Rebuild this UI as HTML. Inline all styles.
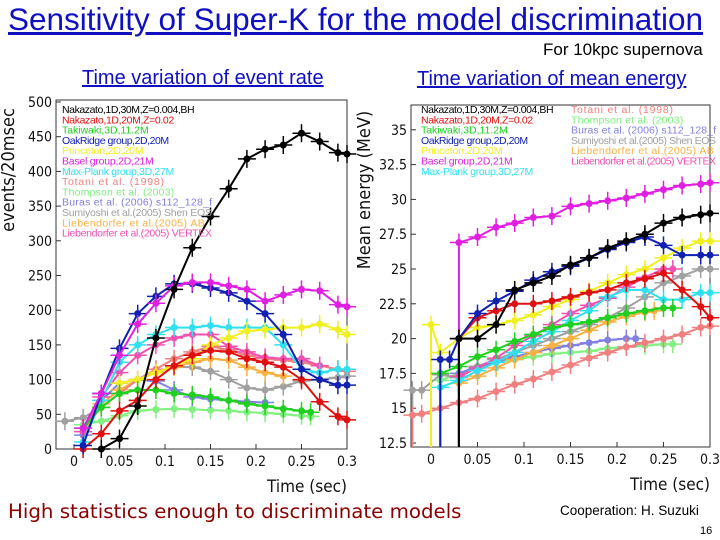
<!DOCTYPE html>
<html><head><meta charset="utf-8"><style>
body{margin:0;background:#fff;font-family:"Liberation Sans",sans-serif;}
#root{position:relative;width:720px;height:540px;overflow:hidden;background:#fff}
.t{position:absolute;white-space:nowrap}
</style></head><body>
<div id="root">
<div class="t" style="left:8px;top:1px;font-size:31.5px;color:#1010c0;text-decoration:underline">Sensitivity of Super-K for the model discrimination</div>
<div class="t" style="left:543px;top:40px;font-size:17px;color:#000">For 10kpc supernova</div>
<div class="t" style="left:82px;top:67px;font-size:20px;color:#1010c0;text-decoration:underline">Time variation of event rate</div>
<div class="t" style="left:417px;top:68px;font-size:20px;color:#1010c0;text-decoration:underline">Time variation of mean energy</div>
<div class="t" style="left:8px;top:500px;font-size:19.8px;color:#8b0000;font-family:'DejaVu Sans',sans-serif">High statistics enough to discriminate models</div>
<div class="t" style="left:560px;top:503px;font-size:13.5px;color:#000">Cooperation: H. Suzuki</div>
<div class="t" style="left:700px;top:525px;font-size:11px;color:#000">16</div>
<svg id="svg" width="720" height="540" style="position:absolute;left:0;top:0"></svg>
</div>
<script>
const colBlack="#000",colRed="#e01010",colGreen="#20d020",colNavy="#1020b0",colYellow="#f0f020",colMagenta="#e020e0",colCyan="#30e0f0",colSalmon="#f08080",colLgreen="#80f080",colBuras="#8080e0",colGray="#a0a0a0",colOrange="#f8b040",colPink="#f050b0";
const legendNames=["Nakazato,1D,30M,Z=0.004,BH","Nakazato,1D,20M,Z=0.02","Takiwaki,3D,11.2M","OakRidge group,2D,20M","Princeton,2D,20M","Basel group,2D,21M","Max-Plank group,3D,27M","Totani et al. (1998)","Thompson et al. (2003)","Buras et al. (2006) s112_128_f","Sumiyoshi et al.(2005) Shen EOS","Liebendorfer et al.(2005) AB","Liebendorfer et al.(2005) VERTEX"];
const legendColors=[colBlack,colRed,colGreen,colNavy,colYellow,colMagenta,colCyan,colSalmon,colLgreen,colBuras,colGray,colOrange,colPink];
const xTicks=[0,0.05,0.1,0.15,0.2,0.25,0.3];
const rateTicks=[0,50,100,150,200,250,300,350,400,450,500];
const energyTicks=[12.5,15,17.5,20,22.5,25,27.5,30,32.5,35];
const rBlackT=[0.03,0.05,0.07,0.09,0.11,0.13,0.15,0.17,0.19,0.21,0.23,0.25,0.27,0.29,0.3];
const rBlackV=[0,15,62,160,230,290,335,375,418,432,438,455,443,427,425];
const rRedT=[0.01,0.03,0.05,0.07,0.09,0.11,0.13,0.15,0.17,0.19,0.21,0.23,0.25,0.27,0.29,0.3];
const rRedV=[0,22,55,70,100,120,135,142,140,130,125,118,100,68,47,42];
const rGreenT=[0.01,0.03,0.05,0.07,0.09,0.11,0.13,0.15,0.17,0.19,0.21,0.23,0.25,0.26];
const rGreenV=[30,60,80,85,85,80,78,75,70,65,62,58,55,53];
const rNavyT=[0.01,0.03,0.05,0.07,0.09,0.11,0.13,0.15,0.17,0.19,0.21,0.23,0.25,0.27,0.29,0.3];
const rNavyV=[5,80,145,195,220,238,238,232,225,213,195,165,115,100,92,92];
const rYellowT=[0.05,0.07,0.09,0.11,0.13,0.15,0.17,0.19,0.21,0.23,0.25,0.27,0.29,0.3];
const rYellowV=[95,100,110,120,130,150,160,170,172,175,175,180,172,165];
const rMagentaT=[0.01,0.03,0.05,0.07,0.09,0.11,0.13,0.15,0.17,0.19,0.21,0.23,0.25,0.27,0.29,0.3];
const rMagentaV=[30,80,135,180,210,235,240,240,235,230,213,222,230,228,208,205];
const rCyanT=[0.01,0.03,0.05,0.07,0.09,0.11,0.13,0.15,0.17,0.19,0.21,0.23,0.25,0.27,0.29,0.3];
const rCyanV=[10,70,125,150,165,175,175,178,175,175,175,150,115,110,115,115];
const rSalmonT=[0.03,0.05,0.07,0.09,0.11,0.13,0.15,0.17,0.19,0.21,0.23,0.25,0.27,0.29,0.3];
const rSalmonV=[60,80,100,115,130,140,148,143,135,130,128,125,120,115,112];
const rLgreenT=[0.01,0.03,0.05,0.07,0.09,0.11,0.13,0.15,0.17,0.19,0.21,0.23,0.25,0.26];
const rLgreenV=[35,40,48,55,57,58,57,56,55,53,52,50,48,47];
const rBurasT=[0.01,0.03,0.05,0.07,0.09,0.11,0.13,0.15,0.17,0.19,0.21];
const rBurasV=[20,70,95,100,98,85,75,72,70,68,67];
const rGrayT=[-0.01,0.01,0.03,0.05,0.07,0.09,0.11,0.13,0.15,0.17,0.19,0.21,0.23,0.25,0.27,0.29,0.3];
const rGrayV=[40,45,60,80,100,110,118,118,112,100,88,85,90,98,100,103,105];
const rOrangeT=[0.01,0.03,0.05,0.07,0.09,0.11,0.13,0.15,0.17,0.19,0.21,0.23];
const rOrangeV=[25,65,85,100,110,118,125,130,128,118,110,105];
const rPinkT=[0.01,0.03,0.05,0.07,0.09,0.11,0.13,0.15,0.17,0.19,0.21,0.23,0.25,0.27];
const rPinkV=[25,75,110,135,150,160,165,165,148,140,132,130,130,120];
const eBlackT=[0.03,0.05,0.07,0.09,0.11,0.13,0.15,0.17,0.19,0.21,0.23,0.25,0.27,0.29,0.3];
const eBlackV=[20,20,21,23.5,24,24.5,25.3,25.8,26.5,27,27.5,28.3,28.7,28.9,29];
const eRedT=[0.03,0.05,0.07,0.09,0.11,0.13,0.15,0.17,0.19,0.21,0.23,0.25,0.27,0.29,0.3];
const eRedV=[20,21.5,22,22.5,22.5,22.7,23,23.3,23.5,24,24.3,24.7,23.5,22.3,21.5];
const eGreenT=[0.01,0.03,0.05,0.07,0.09,0.11,0.13,0.15,0.17,0.19,0.21,0.23,0.25,0.26];
const eGreenV=[17.5,18,18.7,19.2,19.8,20.3,20.8,21,21.2,21.5,21.8,22,22.2,22.2];
const eNavyT=[0.01,0.02,0.03,0.05,0.07,0.09,0.11,0.13,0.15,0.17,0.19,0.21,0.23,0.25,0.27,0.29,0.3];
const eNavyV=[18.5,18.5,20,21.8,22.7,23.4,24.2,24.8,25.2,25.8,26.4,26.9,27.3,26.7,26,26,26];
const eYellowT=[0,0.01,0.03,0.05,0.07,0.09,0.11,0.13,0.15,0.17,0.19,0.21,0.23,0.25,0.27,0.29,0.3];
const eYellowV=[21,19,20,20.8,21,21.3,21.7,22.3,22.8,23.4,24,24.6,25,25.8,26.5,27,27];
const eMagentaT=[0.03,0.05,0.07,0.09,0.11,0.13,0.15,0.17,0.19,0.21,0.23,0.25,0.27,0.29,0.3];
const eMagentaV=[26.9,27.3,28,28.3,28.7,28.8,29.5,29.7,29.9,30.1,30.4,30.7,31,31.1,31.2];
const eCyanT=[0.01,0.03,0.05,0.07,0.09,0.11,0.13,0.15,0.17,0.19,0.21,0.23,0.25,0.27,0.29,0.3];
const eCyanV=[16.5,17,17.7,18.3,19,19.8,20.5,21.3,22,23,23.5,23.5,22.8,22.8,23.3,23.3];
const eSalmonT=[-0.02,-0.01,0.01,0.03,0.05,0.07,0.09,0.11,0.13,0.15,0.17,0.19,0.21,0.23,0.25,0.27,0.29,0.3];
const eSalmonV=[14.5,14.6,15,15.4,15.7,16.2,16.7,17.1,17.6,18.1,18.6,19,19.4,19.7,20,20.3,20.8,20.9];
const eLgreenT=[0.01,0.03,0.05,0.07,0.09,0.11,0.13,0.15,0.17,0.19,0.21,0.23,0.25,0.26];
const eLgreenV=[17,17.5,18,18.3,18.5,18.7,18.9,19,19.1,19.3,19.4,19.5,19.6,19.6];
const eBurasT=[0.03,0.05,0.07,0.09,0.11,0.13,0.15,0.17,0.19,0.21,0.22];
const eBurasV=[17.5,18,18.3,18.7,19,19.3,19.5,19.7,19.9,20,20];
const eGrayT=[-0.02,-0.01,0.01,0.03,0.05,0.07,0.09,0.11,0.13,0.15,0.17,0.19,0.21,0.23,0.25,0.27,0.29,0.3];
const eGrayV=[16.3,16.3,17.4,17.2,18,18.5,19,19.5,20,20.5,21,21.5,22.2,23,24,24.5,25,25];
const eOrangeT=[0.03,0.05,0.07,0.09,0.11,0.13,0.15,0.17,0.19,0.21,0.23,0.24];
const eOrangeV=[16.8,17.3,17.9,18.5,19,19.5,20,20.6,21.2,21.6,21.9,22];
const ePinkT=[0.03,0.05,0.07,0.09,0.11,0.13,0.15,0.17,0.19,0.21,0.23,0.25,0.26];
const ePinkV=[17.3,17.9,18.6,19.5,20.2,21,21.8,22.4,22.9,23.7,24.4,25,25];

const NS="http://www.w3.org/2000/svg";
const svg=document.getElementById('svg');
function mk(tag,attrs,parent){const e=document.createElementNS(NS,tag);for(const k in attrs)e.setAttribute(k,attrs[k]);(parent||svg).appendChild(e);return e;}

function drawChart(cfg){
  const g=mk('g',{});
  
  
  const X=t=>cfg.x0+(t-0)*cfg.xs, Y=v=>cfg.yb-(v-cfg.vmin)*cfg.ys;
  const fr=mk('rect',{x:cfg.L,y:cfg.T,width:cfg.R-cfg.L,height:cfg.B-cfg.T,fill:'#fff',stroke:'#333','stroke-width':1},g);
  
  
  xTicks.forEach(t=>{
    mk('line',{x1:X(t),x2:X(t),y1:cfg.B,y2:cfg.B-5,stroke:'#333'},g);
    const tx=mk('text',{x:X(t),y:cfg.B+17,'text-anchor':'middle','font-size':14,fill:'#111','font-family':'DejaVu Sans Condensed, DejaVu Sans, sans-serif'},g);
    tx.textContent=String(t);
    
    
  });
  cfg.yTicks.forEach(v=>{
    mk('line',{x1:cfg.L,x2:cfg.L+5,y1:Y(v),y2:Y(v),stroke:'#333'},g);
    const tx=mk('text',{x:cfg.L-4,y:Y(v)+5,'text-anchor':'end','font-size':14,fill:'#111','font-family':'DejaVu Sans Condensed, DejaVu Sans, sans-serif'},g);
    tx.textContent=String(v);
    
    
  });
  const xt=mk('text',{x:cfg.R,y:cfg.B+43,'text-anchor':'end','font-size':17,fill:'#111','font-family':'DejaVu Sans Condensed, DejaVu Sans, sans-serif'},g);
  xt.textContent='Time (sec)';
  
  
  const yt=mk('text',{x:0,y:0,'text-anchor':'middle','font-size':18,fill:'#111','font-family':'DejaVu Sans Condensed, DejaVu Sans, sans-serif',transform:`translate(${cfg.ytx},${cfg.yty}) rotate(-90)`},g);
  yt.textContent=cfg.ytitle;
  
  
  cfg.series.forEach((s,i)=>{
    const sg=mk('g',{},g);
    
    
    const clipY=v=>Math.max(cfg.T,Math.min(cfg.B,Y(v)));
    if(cfg.drop){mk('line',{x1:X(s.t[0]),x2:X(s.t[0]),y1:cfg.B,y2:clipY(s.v[0]),stroke:s.c,'stroke-width':2},sg);}
    const pts=s.t.map((t,j)=>X(t).toFixed(1)+','+clipY(s.v[j]).toFixed(1)).join(' ');
    const pl=mk('polyline',{points:pts,fill:'none',stroke:s.c,'stroke-width':2},sg);
    
    
    s.t.forEach((t,j)=>{
      const px=X(t),py=clipY(s.v[j]);
      mk('line',{x1:px-9,x2:px+9,y1:py,y2:py,stroke:s.c,'stroke-width':1.5},sg);
      mk('line',{x1:px,x2:px,y1:py-9,y2:py+9,stroke:s.c,'stroke-width':1.5},sg);
      const c=mk('circle',{cx:px,cy:py,r:3.5,fill:s.c},sg);
      
      
    });
  });
  cfg.legend.forEach((lg,i)=>{
    const tx=mk('text',{x:lg[0],y:lg[1],'font-size':10.5,fill:legendColors[i],'font-family':'Liberation Sans Narrow, Liberation Sans, sans-serif',textLength:lg[2]},g);
    tx.textContent=legendNames[i];
    
    
  });
}
const keys=['nakazato-30m','nakazato-20m','takiwaki','oakridge','princeton','basel','max-planck','totani','thompson','buras','sumiyoshi','liebendorfer-ab','liebendorfer-vertex'];
const rateSeries=[[rBlackT,rBlackV],[rRedT,rRedV],[rGreenT,rGreenV],[rNavyT,rNavyV],[rYellowT,rYellowV],[rMagentaT,rMagentaV],[rCyanT,rCyanV],[rSalmonT,rSalmonV],[rLgreenT,rLgreenV],[rBurasT,rBurasV],[rGrayT,rGrayV],[rOrangeT,rOrangeV],[rPinkT,rPinkV]];
const energySeries=[[eBlackT,eBlackV],[eRedT,eRedV],[eGreenT,eGreenV],[eNavyT,eNavyV],[eYellowT,eYellowV],[eMagentaT,eMagentaV],[eCyanT,eCyanV],[eSalmonT,eSalmonV],[eLgreenT,eLgreenV],[eBurasT,eBurasV],[eGrayT,eGrayV],[eOrangeT,eOrangeV],[ePinkT,ePinkV]];
const drawOrder=[8,9,10,11,7,12,6,4,2,1,3,5,0];
const legL=legendNames.map((n,i)=>[62,113+i*10.3,Math.min(150,n.length*5.1)]);
drawChart({name:'event-rate-chart',L:56,R:347,T:100,B:449,x0:74,xs:910,yb:449,vmin:0,ys:0.694,yTicks:rateTicks,
  ytitle:'events/20msec',ytx:14,yty:170,drop:false,legend:legL,
  series:drawOrder.map(i=>({key:keys[i],c:legendColors[i],t:rateSeries[i][0],v:rateSeries[i][1]}))});
const legR=legendNames.map((n,i)=>i<7?[421,113+i*10.3,Math.min(140,n.length*5.1)]:[571,113+(i-7)*10.3,Math.min(145,n.length*5.1)]);
drawChart({name:'mean-energy-chart',L:411,R:710,T:105,B:447,x0:431,xs:930,yb:443,vmin:12.5,ys:13.92,yTicks:energyTicks,
  ytitle:'Mean energy (MeV)',ytx:370,yty:190,drop:true,legend:legR,
  series:drawOrder.map(i=>({key:keys[i],c:legendColors[i],t:energySeries[i][0],v:energySeries[i][1]}))});
</script>
</body></html>
